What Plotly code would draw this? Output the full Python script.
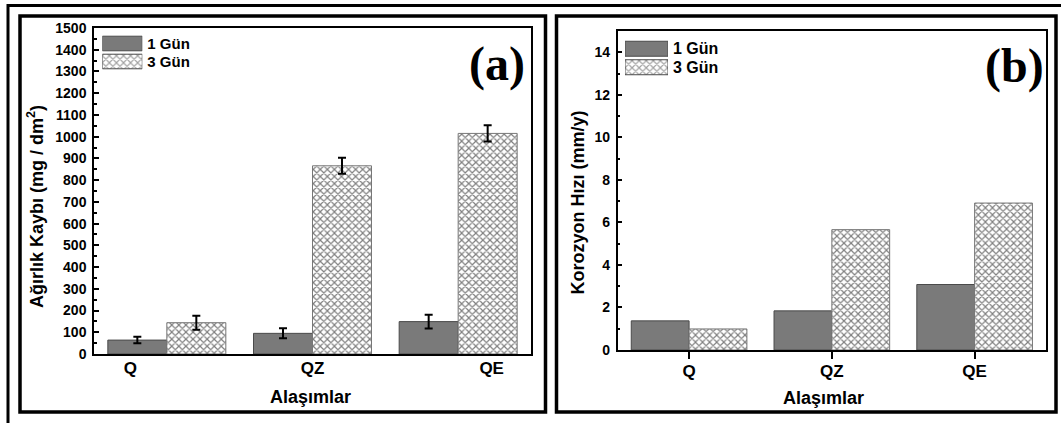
import plotly.graph_objects as go

# ---------------- data ----------------
categories = ["Q", "QZ", "QE"]
series_names = ["1 Gün", "3 Gün"]

# (a) Ağırlık kaybı (mg/dm2)
weight_1gun = [64, 95, 149]
weight_3gun = [144, 866, 1015]
weight_err_1gun = [15, 23, 32]
weight_err_3gun = [32, 37, 37]

# (b) Korozyon hızı (mm/y)
corr_1gun = [1.37, 1.84, 3.08]
corr_3gun = [0.99, 5.66, 6.91]

# tick labels
weight_ticks = list(range(0, 1501, 100))
corr_ticks = list(range(0, 15, 2))

# ---------------- layout helpers ----------------
W, H = 1061, 423
def px(x):
    return x / W
def py(y):
    return 1 - y / H

FONT = "Liberation Sans, Arial, sans-serif"
SERIF = "Liberation Serif, Times New Roman, serif"
GRAY = "#7a7a7a"
EDGE = "#4a4a4a"
pattern_x = dict(shape="x", fgcolor="black", bgcolor="white", size=5, solidity=0.42)

xpos = list(range(len(categories)))
label_pos_a = [-0.25, 1.0, 2.23]

fig = go.Figure()

# panel (a)
fig.add_trace(go.Bar(x=xpos, y=weight_1gun, name=series_names[0], xaxis="x", yaxis="y",
                     marker=dict(color=GRAY, line=dict(color=EDGE, width=1)),
                     error_y=dict(type="data", array=weight_err_1gun, color="black", thickness=2, width=4)))
fig.add_trace(go.Bar(x=xpos, y=weight_3gun, name=series_names[1], xaxis="x", yaxis="y",
                     marker=dict(color="white", pattern=pattern_x, line=dict(color="#777", width=1)),
                     error_y=dict(type="data", array=weight_err_3gun, color="black", thickness=2, width=4)))

# panel (b)
fig.add_trace(go.Bar(x=xpos, y=corr_1gun, name=series_names[0], xaxis="x2", yaxis="y2",
                     marker=dict(color=GRAY, line=dict(color=EDGE, width=1))))
fig.add_trace(go.Bar(x=xpos, y=corr_3gun, name=series_names[1], xaxis="x2", yaxis="y2",
                     marker=dict(color="white", pattern=pattern_x, line=dict(color="#777", width=1))))

# legend swatches drawn as small horizontal bar charts
for xa, ya in (("x3", "y3"), ("x4", "y4")):
    fig.add_trace(go.Bar(y=series_names, x=[1, 1], orientation="h", xaxis=xa, yaxis=ya,
                         marker=dict(color=[GRAY, "white"],
                                     pattern=dict(shape=["", "x"], fgcolor="black", bgcolor="white",
                                                  size=5, solidity=0.42),
                                     line=dict(color=EDGE, width=1))))

tickfont = dict(family=FONT, size=14, color="black", weight="bold")
xtickfont = dict(family=FONT, size=17, color="black", weight="bold")

common_y = dict(showline=True, mirror=True, linecolor="black", linewidth=1.5, showgrid=False,
                zeroline=False, ticks="inside", ticklen=5, tickwidth=1.5, tickcolor="black",
                tickfont=tickfont, automargin=False, ticklabelstandoff=3)
common_x = dict(showline=True, mirror=True, linecolor="black", linewidth=1.5, showgrid=False,
                zeroline=False, range=[-0.5, 2.5], tickfont=xtickfont, automargin=False)

legend_y = dict(side="right", autorange="reversed", tickmode="array", tickvals=series_names,
                showline=False, showgrid=False, zeroline=False, ticks="", ticklabelstandoff=4,
                automargin=False)

fig.update_layout(
    width=W, height=H, margin=dict(l=0, r=0, t=0, b=0, autoexpand=False),
    paper_bgcolor="white", plot_bgcolor="white", showlegend=False,
    barmode="group", bargap=0.19, bargroupgap=0,
    xaxis=dict(domain=[px(94), px(531)], anchor="y", tickmode="array", tickvals=label_pos_a,
               ticktext=categories, ticks="", ticklabelstandoff=-2, **common_x),
    yaxis=dict(domain=[py(354), py(28)], anchor="x", range=[0, 1500], tickmode="array",
               tickvals=weight_ticks, minor=dict(dtick=50, ticks="inside", ticklen=3, tickwidth=1.5,
                                                 tickcolor="black"),
               **common_y),
    xaxis2=dict(domain=[px(617.7), px(1046)], anchor="y2", tickmode="array", tickvals=xpos,
                ticktext=categories, ticks="outside", ticklen=7, tickwidth=1.5, tickcolor="black",
                ticklabelstandoff=-2, **common_x),
    yaxis2=dict(domain=[py(350), py(31)], anchor="x2", range=[0, 15], tickmode="array",
                tickvals=corr_ticks, minor=dict(dtick=1, ticks="inside", ticklen=3, tickwidth=1.5,
                                                tickcolor="black"),
                **common_y),
    xaxis3=dict(domain=[px(102.3), px(142.3)], anchor="y3", range=[0, 1], visible=False),
    yaxis3=dict(domain=[py(70.5), py(34.5)], anchor="x3",
                tickfont=dict(family=FONT, size=15, color="black", weight="bold"), **legend_y),
    xaxis4=dict(domain=[px(625), px(668)], anchor="y4", range=[0, 1], visible=False),
    yaxis4=dict(domain=[py(76.5), py(39.5)], anchor="x4",
                tickfont=dict(family=FONT, size=16, color="black", weight="bold"), **legend_y),
)

# frames
frame_line = dict(color="black", width=3.5)
fig.add_shape(type="rect", xref="paper", yref="paper", x0=px(8), x1=px(1075), y0=py(440), y1=py(5.5),
              line=dict(color="black", width=3))
fig.add_shape(type="rect", xref="paper", yref="paper", x0=px(20), x1=px(545.5), y0=py(412), y1=py(16),
              line=frame_line)
fig.add_shape(type="rect", xref="paper", yref="paper", x0=px(556.5), x1=px(1056), y0=py(412), y1=py(16),
              line=frame_line)

# texts
def ann(text, x, y, size, family=FONT, angle=0, bold=True):
    fig.add_annotation(text=text, x=px(x), y=py(y), xref="paper", yref="paper", showarrow=False,
                       textangle=angle, xanchor="center", yanchor="middle",
                       font=dict(family=family, size=size, color="black", weight="bold" if bold else "normal"))

ann("Ağırlık Kaybı (mg / dm<sup>2</sup>)", 36, 207, 18, angle=-90)
ann("Korozyon Hızı (mm/y)", 577, 202.5, 18, angle=-90)
ann("Alaşımlar", 310, 397, 18)
ann("Alaşımlar", 823.5, 398, 18)
ann("(a)", 497, 64, 48, family=SERIF)
ann("(b)", 1014, 66, 48, family=SERIF)

fig.write_html("out.html")
